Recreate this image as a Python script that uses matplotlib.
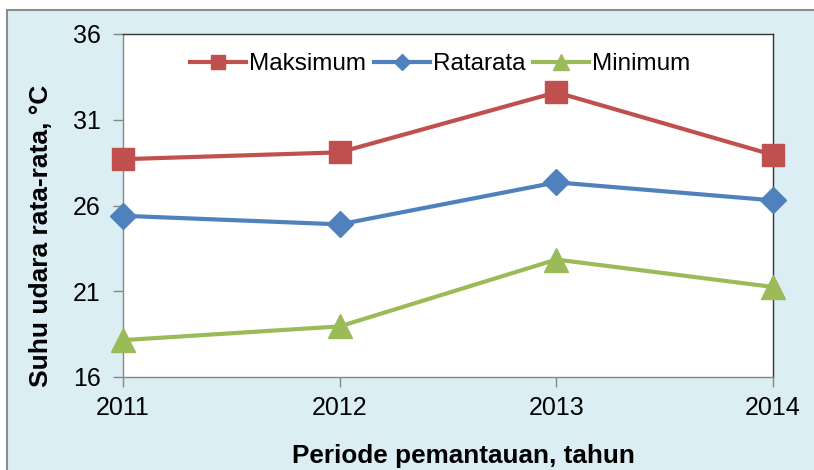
import matplotlib

matplotlib.use("Agg")
import matplotlib.pyplot as plt
from matplotlib.patches import Rectangle

plt.rcParams["font.family"] = ["Liberation Sans", "DejaVu Sans"]

years = [2011, 2012, 2013, 2014]
maksimum = [28.7, 29.1, 32.6, 28.95]
ratarata = [25.4, 24.9, 27.35, 26.3]
minimum = [18.15, 18.95, 22.85, 21.25]

RED = "#C0504D"
BLUE = "#4F81BD"
GREEN = "#9BBB59"
PANEL = "#DBEEF4"

fig = plt.figure(figsize=(8.14, 4.70), dpi=100, facecolor="white")
# light blue chart area with grey border, white margin at top/left
fig.add_artist(Rectangle((7 / 814, -0.01), 1.0, 1 - 10 / 470 + 0.01,
                         transform=fig.transFigure, facecolor=PANEL,
                         edgecolor="#8C8C8C", linewidth=1.5, zorder=-5))

ax = fig.add_axes([123 / 814, 1 - 377 / 470, (773 - 123) / 814, (377 - 34) / 470])
ax.set_zorder(2)
ax.set_facecolor("white")

ax.plot(years, maksimum, color=RED, lw=3, marker="s", ms=16, label="Maksimum", clip_on=False, zorder=3)
ax.plot(years, ratarata, color=BLUE, lw=3, marker="D", ms=13, label="Ratarata", clip_on=False, zorder=3)
ax.plot(years, minimum, color=GREEN, lw=3, marker="^", ms=17, label="Minimum", clip_on=False, zorder=3)

ax.set_xlim(2011, 2014)
ax.set_ylim(16, 36)
ax.set_xticks(years)
ax.set_yticks([16, 21, 26, 31, 36])
ax.tick_params(axis="both", labelsize=18, direction="out", length=7, color="#868686", width=1)
ax.tick_params(axis="x", pad=7)
ax.tick_params(axis="y", pad=9)
for side in ("left", "bottom"):
    ax.spines[side].set_color("#868686")
for side in ("top", "right"):
    ax.spines[side].set_color("#333333")
for s in ax.spines.values():
    s.set_linewidth(1)

ax.set_ylabel("Suhu udara rata-rata, °C", fontsize=19, fontweight="bold")
ax.set_xlabel("Periode pemantauan, tahun", fontsize=18.8, fontweight="bold")
ax.yaxis.set_label_coords((41 - 123) / 650, 0.41)
ax.xaxis.set_label_coords((463 - 123) / 650, (377 - 463) / 343)
ax.xaxis.label.set_va("baseline")
ax.yaxis.label.set_va("center")

ax.legend(loc="center", bbox_to_anchor=((440 - 123) / 650, 1 - 30 / 343), ncol=3, frameon=False,
          fontsize=17.5, handlelength=2.3, handletextpad=0.12, columnspacing=0.33,
          markerscale=0.65, borderaxespad=0.0)

fig.savefig("out.png", dpi=100, facecolor=fig.get_facecolor())
